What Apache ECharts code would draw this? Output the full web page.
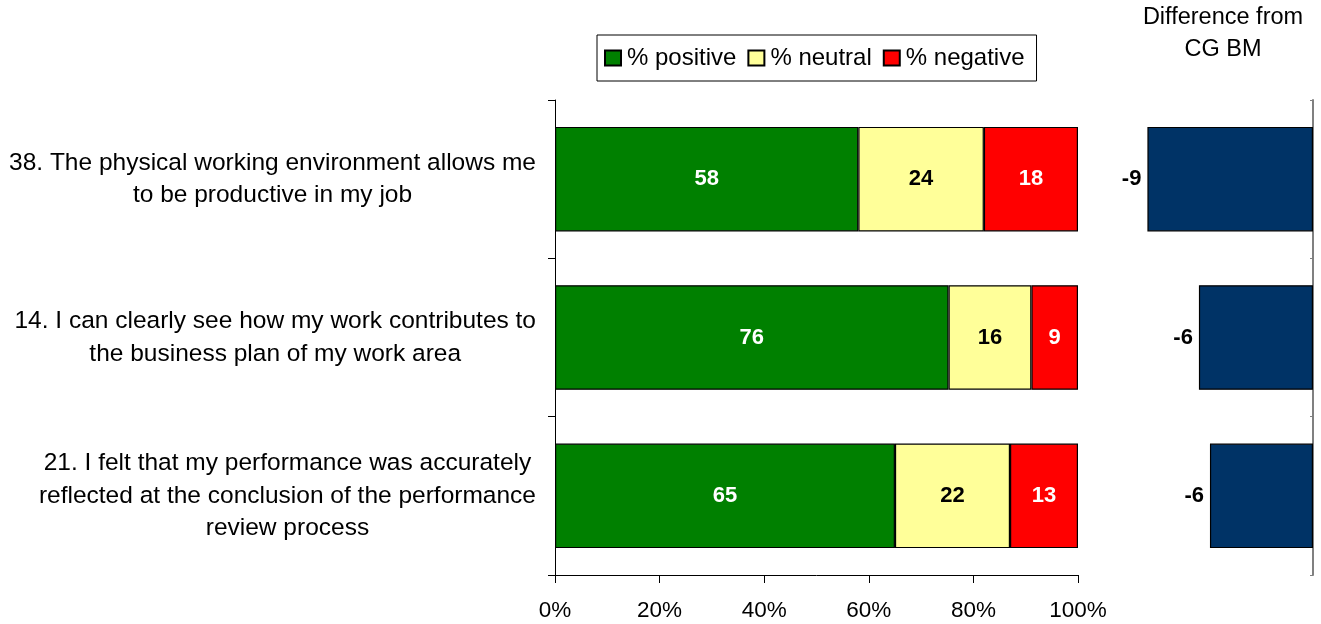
<!DOCTYPE html>
<html>
<head>
<meta charset="utf-8">
<script src="https://cdn.jsdelivr.net/npm/echarts@6/dist/echarts.min.js"></script>
<style>
  html, body { margin: 0; padding: 0; background: #fff; }
  #chart { width: 1321px; height: 624px; }
</style>
</head>
<body>
<div id="chart"></div>
<script>
// Survey items (top to bottom)
const categories = [
  '38. The physical working environment allows me\nto be productive in my job',
  '14. I can clearly see how my work contributes to\nthe business plan of my work area',
  '21. I felt that my performance was accurately\nreflected at the conclusion of the performance\nreview process'
];
const seriesNames = ['% positive', '% neutral', '% negative'];
const positive = [58, 76, 65];
const neutral = [24, 16, 22];
const negative = [18, 9, 13];
// Difference from CG benchmark (percentage points)
const diffFromBM = [-9.0, -6.2, -5.6];
const diffTitle = 'Difference from\nCG BM';

const FONT = '"Liberation Sans", Arial, sans-serif';

// each row is shown as a share of its own total
const totals = categories.map((_, i) => positive[i] + neutral[i] + negative[i]);
const toShares = arr => arr.map((v, i) => ({ value: v / totals[i] * 100, raw: v }));

const colors = ['#008000', '#FFFF99', '#FF0000'];
const labelColors = ['#ffffff', '#000000', '#ffffff'];
const rows = [positive, neutral, negative];

const stackSeries = rows.map((arr, k) => ({
  name: seriesNames[k],
  type: 'bar',
  stack: 'total',
  xAxisIndex: 0,
  yAxisIndex: 0,
  barWidth: '66%',
  data: toShares(arr),
  itemStyle: { color: colors[k], borderColor: '#000', borderWidth: 1.2 },
  label: {
    show: true,
    position: 'inside',
    formatter: p => String(p.data.raw),
    color: labelColors[k],
    fontFamily: FONT,
    fontWeight: 'bold',
    fontSize: 22
  },
  emphasis: { disabled: true }
}));

const wrapLines = v => v.split('\n').map(s => '{c|' + s + '}').join('\n');

const chart = echarts.init(document.getElementById('chart'), null, { renderer: 'canvas' });
chart.setOption({
  animation: false,
  backgroundColor: '#ffffff',
  textStyle: { fontFamily: FONT },
  title: {
    text: diffTitle,
    left: 1223,
    top: 2,
    padding: 0,
    textAlign: 'center',
    textStyle: { fontFamily: FONT, fontSize: 23.5, fontWeight: 'normal', color: '#000', lineHeight: 32 }
  },
  legend: {
    data: seriesNames,
    left: 597,
    top: 35,
    padding: [10, 12, 10, 7],
    itemGap: 11,
    itemWidth: 16,
    itemHeight: 15,
    icon: 'rect',
    borderColor: '#000',
    borderWidth: 1,
    textStyle: { fontFamily: FONT, fontSize: 24, color: '#000', padding: [0, 0, 0, 1], lineHeight: 26 }
  },
  grid: [
    { left: 555, width: 523, top: 100, height: 475 },
    { left: 1129, width: 184, top: 100, height: 475 }
  ],
  xAxis: [
    {
      type: 'value',
      gridIndex: 0,
      min: 0,
      max: 100,
      interval: 20,
      axisLine: { show: true, lineStyle: { color: '#000', width: 1 } },
      axisTick: { show: true, length: 8, lineStyle: { color: '#000' } },
      splitLine: { show: false },
      axisLabel: {
        formatter: v => v + '%',
        fontFamily: FONT,
        fontSize: 22.5,
        color: '#000',
        margin: 24
      }
    },
    {
      type: 'value',
      gridIndex: 1,
      min: -10,
      max: 0,
      show: false
    }
  ],
  yAxis: [
    {
      type: 'category',
      gridIndex: 0,
      data: categories,
      inverse: true,
      axisLine: { show: true, lineStyle: { color: '#000', width: 1 } },
      axisTick: { show: true, length: 7, lineStyle: { color: '#000' } },
      axisLabel: {
        margin: 19,
        formatter: wrapLines,
        rich: {
          c: { align: 'center', fontFamily: FONT, fontSize: 24.5, color: '#000', lineHeight: 32.5 }
        }
      }
    },
    {
      type: 'category',
      gridIndex: 1,
      data: categories,
      inverse: true,
      position: 'right',
      axisLine: { show: true, onZero: false, lineStyle: { color: '#808080', width: 2 } },
      axisTick: { show: true, inside: true, length: 3, lineStyle: { color: '#808080' } },
      axisLabel: { show: false }
    }
  ],
  series: stackSeries.concat([{
    name: 'Difference from CG BM',
    type: 'bar',
    xAxisIndex: 1,
    yAxisIndex: 1,
    barWidth: '66%',
    data: diffFromBM,
    itemStyle: { color: '#003366', borderColor: '#000', borderWidth: 1.2 },
    label: {
      show: true,
      position: 'left',
      distance: 6,
      formatter: p => p.value.toFixed(0),
      color: '#000',
      fontFamily: FONT,
      fontWeight: 'bold',
      fontSize: 22
    },
    emphasis: { disabled: true }
  }])
});
</script>
</body>
</html>
